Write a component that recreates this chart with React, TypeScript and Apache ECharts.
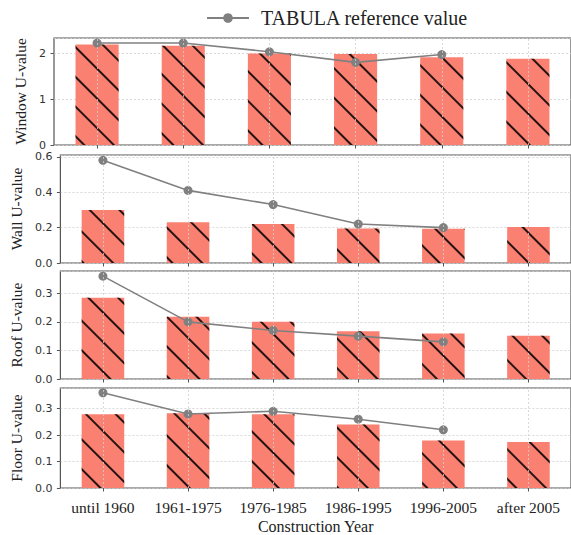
import React, { useEffect, useRef } from "react";
import * as echarts from "echarts";

const categories = ["until 1960", "1961-1975", "1976-1985", "1986-1995", "1996-2005", "after 2005"];

const windowBars = [2.19, 2.16, 1.99, 1.98, 1.91, 1.88];
const windowRef = [2.22, 2.22, 2.03, 1.80, 1.97, null];

const wallBars = [0.30, 0.23, 0.22, 0.195, 0.194, 0.203];
const wallRef = [0.58, 0.41, 0.33, 0.22, 0.20, null];

const roofBars = [0.284, 0.218, 0.20, 0.167, 0.159, 0.151];
const roofRef = [0.36, 0.20, 0.17, 0.15, 0.13, null];

const floorBars = [0.279, 0.283, 0.279, 0.24, 0.18, 0.174];
const floorRef = [0.36, 0.28, 0.29, 0.26, 0.22, null];

const panelNames = ["Window U-value", "Wall U-value", "Roof U-value", "Floor U-value"];
const yMax = [2.33, 0.61, 0.378, 0.378];
const yInterval = [1, 0.2, 0.1, 0.1];
const yDecimals = [0, 1, 1, 1];
const legendName = "TABULA reference value";
const xTitle = "Construction Year";

export default function App() {
  const ref = useRef<HTMLDivElement>(null);
  useEffect(() => {
    if (!ref.current) return;
    const chart = echarts.init(ref.current, null, { renderer: "svg" });
    const bars = [windowBars, wallBars, roofBars, floorBars];
    const refs = [windowRef, wallRef, roofRef, floorRef];
    const tops = [38, 155, 271, 388];
    const heights = [107, 108, 108, 108];
    const serif = "Liberation Serif";
    const grids = tops.map((t, i) => ({
      left: 54,
      right: -6,
      top: t,
      height: heights[i],
      show: true,
      borderColor: "#555",
      borderWidth: 1.2,
    }));
    const xAxes = tops.map((_, i) => ({
      type: "category",
      gridIndex: i,
      data: categories,
      boundaryGap: true,
      axisLine: { show: false },
      axisTick: { show: true, alignWithLabel: true, length: 3.5, lineStyle: { color: "#555" } },
      axisLabel: {
        show: i === 3,
        fontFamily: serif,
        fontSize: 15.5,
        color: "#222",
        margin: 11,
        interval: 0,
      },
      splitLine: { show: false },
      name: i === 3 ? xTitle : "",
      nameLocation: "middle",
      nameGap: 30,
      nameTextStyle: { fontFamily: serif, fontSize: 16, color: "#222" },
    }));
    const yAxes = tops.map((_, i) => ({
      type: "value",
      gridIndex: i,
      min: 0,
      max: yMax[i],
      interval: yInterval[i],
      axisLine: { show: false },
      axisTick: { show: true, length: 3.5, lineStyle: { color: "#555" } },
      axisLabel: {
        fontFamily: "DejaVu Sans",
        fontSize: 11,
        lineHeight: 9,
        color: "#333",
        margin: 8,
        showMaxLabel: false,
        formatter: (v: number) => v.toFixed(yDecimals[i]),
      },
      splitLine: { show: true, lineStyle: { color: "#cfcfcf", type: [2, 2], width: 0.8 } },
      name: panelNames[i],
      nameLocation: "middle",
      nameGap: 18,
      nameTextStyle: { fontFamily: serif, fontSize: 15.5, color: "#222" },
    }));
    const series: any[] = [];
    tops.forEach((_, i) => {
      series.push({
        name: "_grid" + i,
        type: "line",
        xAxisIndex: i,
        yAxisIndex: i,
        data: [],
        z: 0,
        silent: true,
        markLine: {
          silent: true,
          symbol: ["none", "none"],
          label: { show: false },
          lineStyle: { color: "#cfcfcf", type: [2, 2], width: 0.8 },
          data: categories.map((c) => ({ xAxis: c })),
        },
      });
      series.push({
        name: "U-value",
        type: "bar",
        xAxisIndex: i,
        yAxisIndex: i,
        data: bars[i],
        barWidth: "50%",
        z: 2,
        itemStyle: {
          color: "#FA8072",
          decal: {
            symbol: "rect",
            symbolSize: 1,
            color: "rgba(0,0,0,0.85)",
            dashArrayX: [1, 0],
            dashArrayY: [1.1, 19],
            rotation: Math.PI / 4,
          },
        },
      });
      series.push({
        name: legendName,
        type: "line",
        xAxisIndex: i,
        yAxisIndex: i,
        data: refs[i],
        z: 3,
        symbol: "circle",
        symbolSize: 9,
        color: "#808080",
        lineStyle: { color: "#808080", width: 1.6 },
        itemStyle: { color: "#808080" },
      });
    });
    chart.setOption({
      animation: false,
      legend: {
        data: [legendName],
        left: 201,
        top: 3,
        itemWidth: 42,
        itemHeight: 12,
        itemGap: 10,
        textStyle: { fontFamily: serif, fontSize: 20, color: "#222", padding: [0, 0, 0, 7] },
      },
      grid: grids,
      xAxis: xAxes,
      yAxis: yAxes,
      series,
    });
    return () => chart.dispose();
  }, []);
  return (
    <div
      ref={ref}
      style={{ position: "fixed", left: 0, top: 0, width: 571, height: 535, background: "#fff" }}
    />
  );
}
